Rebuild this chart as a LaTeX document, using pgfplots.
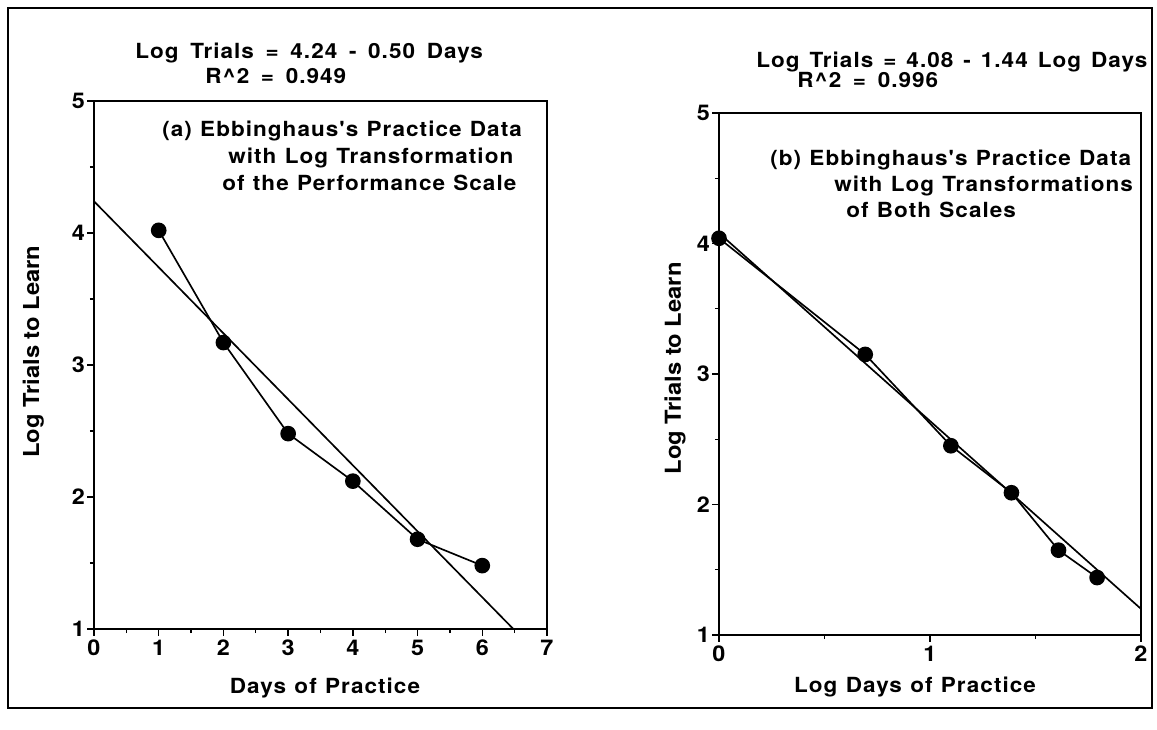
\documentclass[border=0pt]{standalone}
\usepackage{fontspec}
\setmainfont{TeX Gyre Heros}[FakeStretch=1.08]
\newfontfamily\widefont{TeX Gyre Heros}[FakeStretch=1.08, LetterSpace=5]
\newcommand{\apos}{\char"0027\relax}
\newcommand{\wtext}{\widefont\bfseries\fontsize{12.5}{14}\selectfont\spaceskip=5pt\relax}
\newcommand{\ttext}{\widefont\bfseries\fontsize{12.5}{14}\selectfont\spaceskip=7pt\relax}
\newcommand{\tbtext}{\widefont\bfseries\fontsize{12.5}{14}\selectfont\spaceskip=6pt\relax}
\usepackage{pgfplots}
\pgfplotsset{compat=1.18}
\begin{document}
\begin{tikzpicture}[font=\bfseries\fontsize{12.5}{14}\selectfont]
\path[use as bounding box] (0,0) rectangle (694.2pt,438pt);
\draw[line width=0.8pt] (4.8pt,13.2pt) rectangle (691.2pt,433.2pt);
\pgfplotsset{
  ebb/.style={
    scale only axis,
    axis line style={line width=1pt},
    ymin=1, ymax=5, ytick={1,2,3,4,5},
    minor tick num=1,
    tick pos=left,
    tick align=outside,
    major tick length=4pt, minor tick length=2.5pt,
    tick style={line width=0.8pt, black},
    /pgf/number format/assume math mode=true,
    ticklabel style={font=\bfseries\fontsize{13}{13}\selectfont},
    xticklabel style={yshift=1pt},
    yticklabel style={xshift=2pt},
  }
}
% Panel (a)
\begin{axis}[ebb, at={(56.4pt,60.6pt)}, anchor=south west,
  width=271.8pt, height=316.8pt,
  xmin=0, xmax=7, xtick={0,1,2,3,4,5,6,7}]
\addplot[black, line width=1pt, mark=*, mark size=4.2pt, mark options={solid, fill=black}]
  coordinates {(1,4.02) (2,3.17) (3,2.48) (4,2.12) (5,1.68) (6,1.48)};
\addplot[black, line width=1pt, no marks] coordinates {(0,4.24) (6.48,1.0)};
\end{axis}
% Panel (b)
\begin{axis}[ebb, at={(431.4pt,57pt)}, anchor=south west,
  width=253.2pt, height=313.2pt,
  xmin=0, xmax=2, xtick={0,1,2}]
\addplot[black, line width=1pt, mark=*, mark size=4.2pt, mark options={solid, fill=black}]
  coordinates {(0,4.04) (0.693,3.15) (1.099,2.45) (1.386,2.09) (1.609,1.65) (1.792,1.44)};
\addplot[black, line width=1pt, no marks] coordinates {(0,4.08) (2,1.20)};
\end{axis}
% Titles
\begin{scope}[every node/.style={anchor=west, inner sep=0pt, font=\ttext}]
\node at (81pt,406.2pt) {Log Trials = 4.24 - 0.50 Days};
\node at (123pt,392.4pt) {R\^{}2 = 0.949};
\node[font=\tbtext] at (453.6pt,400.8pt) {Log Trials = 4.08 - 1.44 Log Days};
\node at (478.2pt,390pt) {R\^{}2 = 0.996};
\end{scope}
% Annotations
\begin{scope}[every node/.style={anchor=west, inner sep=0pt, font=\wtext}]
\node at (97.2pt,359.4pt) {(a) Ebbinghaus\apos s Practice Data};
\node at (136.8pt,343.2pt) {with Log Transformation};
\node at (133.2pt,328.2pt) {of the Performance Scale};
\node at (462pt,342pt) {(b) Ebbinghaus\apos s Practice Data};
\node at (500.4pt,326.4pt) {with Log Transformations};
\node at (507.6pt,312pt) {of Both Scales};
\end{scope}
% Axis labels
\node[rotate=90, font=\bfseries\fontsize{13.2}{14}\selectfont] at (20pt,227pt) {Log Trials to Learn};
\node[font=\wtext] at (195pt,25pt) {Days of Practice};
\node[rotate=90, font=\bfseries\fontsize{13.2}{14}\selectfont] at (405pt,217pt) {Log Trials to Learn};
\node[font=\wtext] at (549pt,25.8pt) {Log Days of Practice};
\end{tikzpicture}
\end{document}
